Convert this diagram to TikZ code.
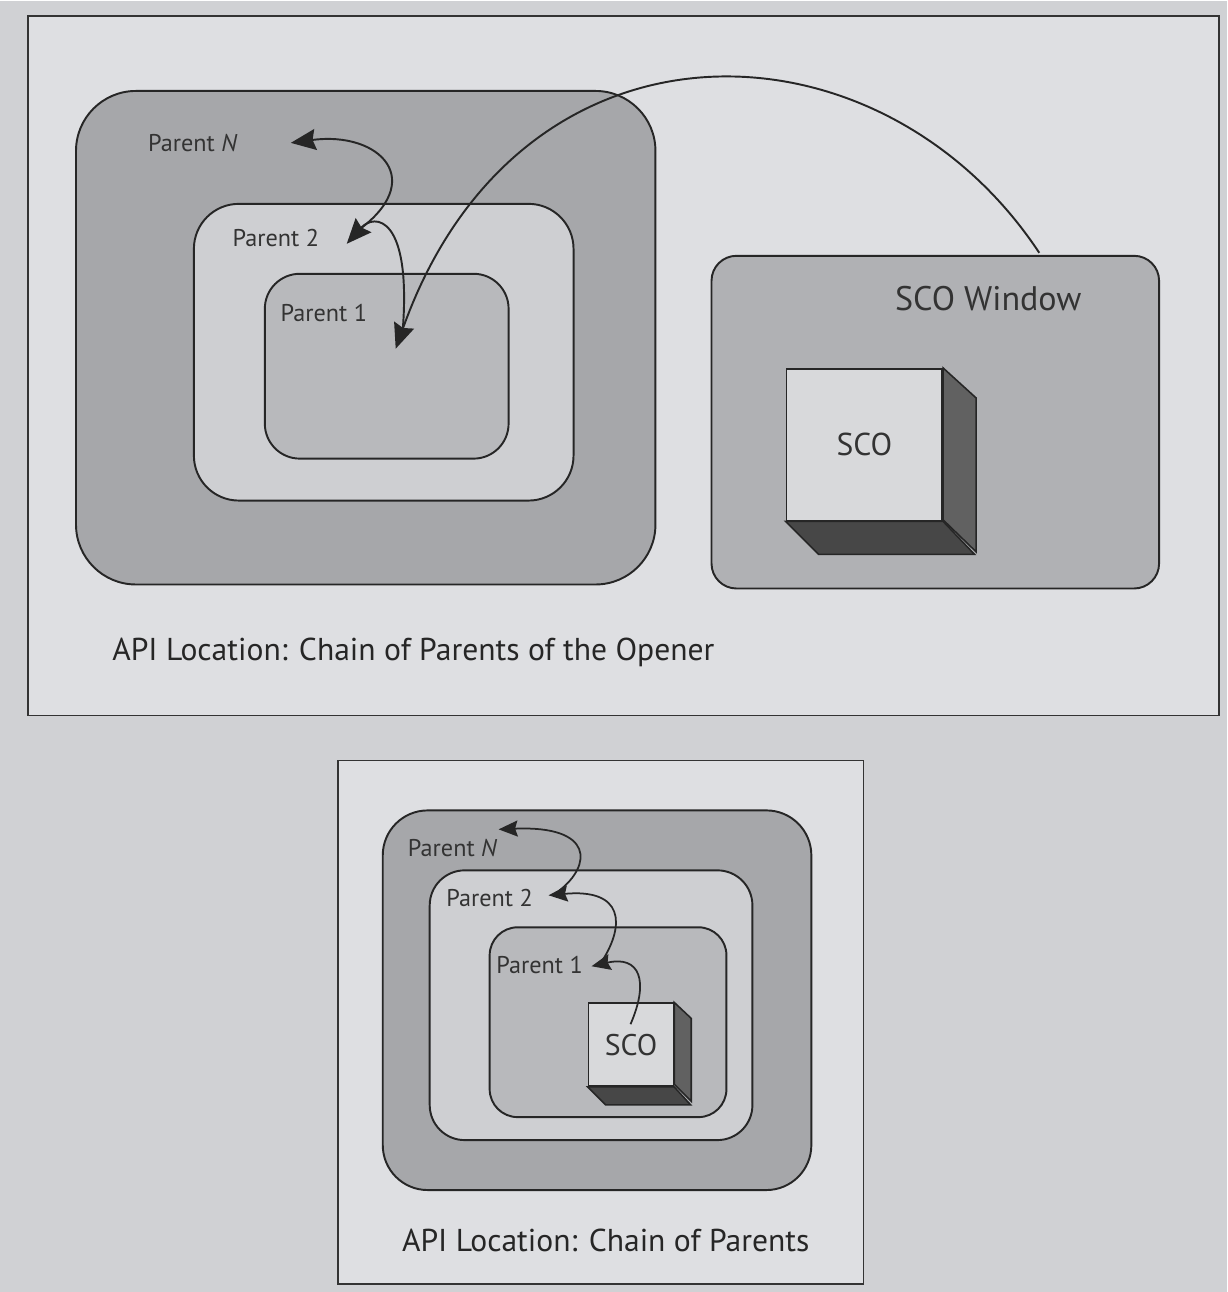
\documentclass[tikz,border=0pt]{standalone}
\usepackage{fontspec}
\setmainfont{PT Sans}
\usetikzlibrary{arrows.meta}

\definecolor{paper}{RGB}{208,209,212}
\definecolor{sheet}{RGB}{222,223,226}
\definecolor{outergray}{RGB}{166,167,170}
\definecolor{midgray}{RGB}{206,207,210}
\definecolor{innergray}{RGB}{184,185,188}
\definecolor{wingray}{RGB}{176,177,180}
\definecolor{facegray}{RGB}{216,217,219}

\begin{document}
\begin{tikzpicture}[x=0.02cm, y=-0.02cm,
  frame/.style={draw=black!80, line width=0.9pt, fill=sheet},
  box/.style={draw=black!85, line width=1.1pt, rounded corners=#1},
  lab/.style={font=\fontsize{13.8}{16}\selectfont, text=black!80, inner sep=0pt},
  caption/.style={font=\fontsize{18}{21}\selectfont, text=black!85, inner sep=0pt, anchor=west},
  face/.style={draw=black!85, line width=0.9pt, fill=facegray, text=black!80, inner sep=0pt},
  link/.style={line width=1.1pt, draw=black!85, -{Stealth[length=5mm, width=4.2mm, inset=0.6mm]}},
  smalllink/.style={line width=1pt, draw=black!85, -{Stealth[length=3.8mm, width=3.2mm, inset=0.5mm]}}]

  \fill[paper] (0,0) rectangle (1228,1292);

  \node (top) [frame, minimum width=23.84cm, minimum height=14cm] at (624,365) {};
  \node (bottom) [frame, minimum width=10.52cm, minimum height=10.48cm] at (601,1022) {};

  \node (pN) [box=1.2cm, fill=outergray, minimum width=11.6cm, minimum height=9.88cm] at (366,337) {};
  \node (p2) [box=0.9cm, fill=midgray, minimum width=7.6cm, minimum height=5.94cm] at (384,351.5) {};
  \node (p1) [box=0.7cm, fill=innergray, minimum width=4.88cm, minimum height=3.7cm] at (387,365.5) {};
  \node (win) [box=0.5cm, fill=wingray, minimum width=8.96cm, minimum height=6.66cm] at (936,421.5) {};

  \node (pNlab) [lab] at (193,142) {Parent \textit{N}};
  \node (p2lab) [lab] at (276,237) {Parent 2};
  \node (p1lab) [lab] at (324,312) {Parent 1};
  \node (winlab) [font=\fontsize{19.4}{23}\selectfont, text=black!80, inner sep=0pt] at (989,298) {SCO Window};

  \node (sco) [face, minimum width=3.12cm, minimum height=3.04cm, font=\fontsize{18}{21}\selectfont] at (865,444) {SCO};
  \fill[black!62, draw=black!85, line width=0.9pt] (sco.north east) -- ++(33,30) -- ++(0,154) -- ++(-33,-32) -- cycle;
  \fill[black!72, draw=black!85, line width=0.9pt] (sco.south west) -- ++(33,33) -- ++(156,0) -- (sco.south east) -- cycle;

  \coordinate (wtop) at (1040,252);
  \coordinate (p1in) at (396,348);
  \coordinate (p1up) at (403,330);
  \coordinate (p2in) at (347,243);
  \coordinate (p2up) at (355,232);
  \coordinate (pNin) at (291,142);

  \draw[link] (wtop) .. controls (880,10) and (520,0) .. (p1in);
  \draw[link] (p1up) .. controls (412,215) and (375,212) .. (p2in);
  \draw[link] (p2up) .. controls (430,180) and (380,130) .. (pNin);

  \node (cap1) [caption] at (112,652) {API Location: Chain of Parents of the Opener};

  \node (qN) [box=0.9cm, fill=outergray, minimum width=8.58cm, minimum height=7.6cm] at (597.5,1000) {};
  \node (q2) [box=0.7cm, fill=midgray, minimum width=6.46cm, minimum height=5.4cm] at (591.5,1005) {};
  \node (q1) [box=0.56cm, fill=innergray, minimum width=4.74cm, minimum height=3.8cm] at (608.5,1022) {};

  \node (qNlab) [lab] at (453,848) {Parent \textit{N}};
  \node (q2lab) [lab] at (490,898) {Parent 2};
  \node (q1lab) [lab] at (540,965) {Parent 1};

  \node (qsco) [face, minimum width=1.7cm, minimum height=1.66cm, font=\fontsize{17}{20}\selectfont, text depth=0pt, text height=12pt] at (631.5,1044.5) {SCO};
  \fill[black!62, draw=black!85, line width=0.9pt] (qsco.north east) -- ++(17,16) -- ++(0,83) -- ++(-17,-17) -- cycle;
  \fill[black!72, draw=black!85, line width=0.9pt] (qsco.south west) -- ++(18,18) -- ++(85,0) -- (qsco.south east) -- cycle;

  \coordinate (scoup) at (631,1024);
  \coordinate (q1in) at (592,966);
  \coordinate (q1up) at (603,960);
  \coordinate (q2in) at (549,895);
  \coordinate (q2up) at (560,890);
  \coordinate (qNin) at (499,829);

  \draw[smalllink] (scoup) .. controls (650,980) and (640,955) .. (q1in);
  \draw[smalllink] (q1up) .. controls (625,925) and (625,888) .. (q2in);
  \draw[smalllink] (q2up) .. controls (592,865) and (595,825) .. (qNin);

  \node (cap2) [caption] at (402,1240) {API Location: Chain of Parents};
\end{tikzpicture}
\end{document}
